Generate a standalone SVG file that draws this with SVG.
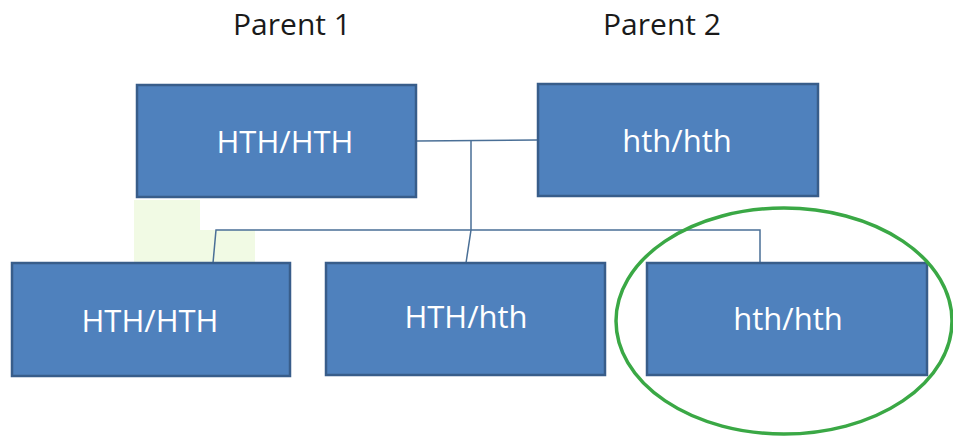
<svg xmlns="http://www.w3.org/2000/svg" width="953" height="437" viewBox="0 0 953 437">
<style>
.box{fill:#4f81bd;stroke:#385d8a;stroke-width:2.5}
.lbl{font-family:"Open Sans","Liberation Sans",sans-serif;font-size:31px;fill:#ffffff;text-anchor:middle}
.ttl{font-family:"Open Sans","Liberation Sans",sans-serif;font-size:30px;fill:#1a1a1a;text-anchor:middle}
.con{fill:none;stroke:#4a6f96;stroke-width:1.5}
</style>
<rect x="0" y="0" width="953" height="437" fill="#ffffff"/>
<path d="M134 200 H200 V230 H255 V262 H134 Z" fill="#f1fae4"/>
<text class="ttl" x="292" y="35">Parent 1</text>
<text class="ttl" x="662" y="35">Parent 2</text>
<g id="connectors">
<path class="con" d="M417 141 L537 140"/>
<path class="con" d="M471 141 V230 L466 263"/>
<path class="con" d="M213 263 L216 230 H760 V263"/>
</g>
<g id="p1"><rect class="box" x="137" y="85" width="279" height="112"/><text class="lbl" x="285" y="153">HTH/HTH</text></g>
<g id="p2"><rect class="box" x="538" y="84" width="280" height="112"/><text class="lbl" x="677" y="152">hth/hth</text></g>
<g id="c1"><rect class="box" x="12" y="263" width="278" height="113"/><text class="lbl" x="150" y="332">HTH/HTH</text></g>
<g id="c2"><rect class="box" x="326" y="263" width="279" height="112"/><text class="lbl" x="466" y="328">HTH/hth</text></g>
<g id="c3"><rect class="box" x="647" y="263" width="280" height="112"/><text class="lbl" x="788" y="330">hth/hth</text></g>
<ellipse cx="784" cy="321" rx="168" ry="113" fill="none" stroke="#3aa845" stroke-width="3.5"/>
</svg>
